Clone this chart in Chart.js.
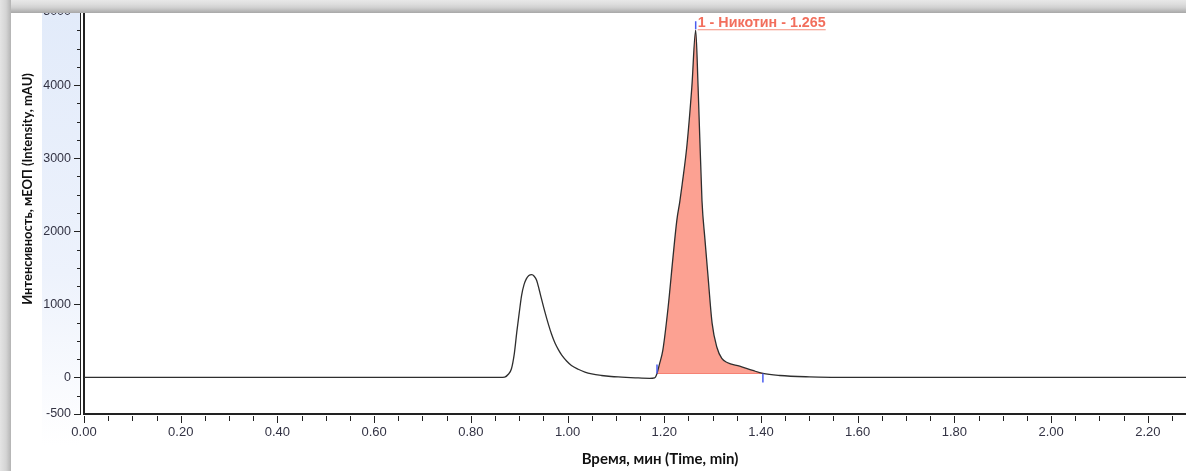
<!DOCTYPE html>
<html>
<head>
<meta charset="utf-8">
<script src="https://cdn.jsdelivr.net/npm/chart.js@4/dist/chart.umd.min.js"></script>
<style>
  html, body { margin: 0; padding: 0; background: #fff; }
  #wrap { position: relative; width: 1186px; height: 471px; overflow: hidden; }
  #chart { position: absolute; left: 0; top: 0; }
  .frame { position: absolute; pointer-events: none; }
  #frameTop { left: 0; top: 0; width: 1186px; height: 13px;
    background: linear-gradient(to bottom, #e8e8e8 0%, #dcdcdc 35%, #cfcfcf 60%, #a8a8a8 100%); }
  #frameLeft { left: 0; top: 0; width: 11px; height: 471px;
    background: linear-gradient(to right, #e4e4e4 0%, #d4d4d4 55%, #b4b4b4 100%); }
</style>
</head>
<body>
<div id="wrap">
  <canvas id="chart" width="1186" height="471"></canvas>
  <div class="frame" id="frameTop"></div>
  <div class="frame" id="frameLeft"></div>
</div>
<script>
const times = [0, 0.5, 0.84, 0.86, 0.87, 0.877, 0.884, 0.89, 0.895, 0.90, 0.905, 0.91, 0.915, 0.92,
    0.926, 0.931, 0.936, 0.941, 0.946, 0.953, 0.960, 0.967, 0.974, 0.981, 0.988, 0.998, 1.008,
    1.022, 1.036, 1.05, 1.07, 1.09, 1.112, 1.14, 1.17, 1.18, 1.185, 1.19, 1.197, 1.208, 1.218,
    1.226, 1.232, 1.237, 1.247, 1.257, 1.265, 1.270, 1.278, 1.284, 1.290, 1.299, 1.309, 1.319,
    1.330, 1.356, 1.383, 1.404, 1.439, 1.50, 1.55, 1.60, 2.0, 2.28];
const intensity = [0, 0, 0, 0, 5, 40, 119, 330, 620, 880, 1123, 1270, 1352, 1395,
    1407, 1385, 1329, 1210, 1078, 900, 736, 590, 470, 380, 305, 225, 164,
    112, 73, 48, 27, 13, 5, -5, -12, -5, 55, 180, 370, 960, 1640,
    2150, 2400, 2640, 3180, 3970, 4750, 3970, 2420, 1900, 1425, 740, 410, 260,
    205, 155, 96, 55, 27, 8, 2, 0, 0, 0];

const xTicks = [0, 0.2, 0.4, 0.6, 0.8, 1.0, 1.2, 1.4, 1.6, 1.8, 2.0, 2.2];
const yTicks = [-500, 0, 1000, 2000, 3000, 4000, 5000];
const xMinorStep = 0.05;
const yMinorStep = 250;

const peakStart = 1.185;
const peakEnd = 1.404;
const peakTime = 1.265;
const peakLabel = "1 - Никотин - 1.265";

const xTitle = "Время, мин (Time, min)";
const yTitle = "Интенсивность, мЕОП (Intensity, mAU)";

const trace = times.map((t, i) => ({ x: t, y: intensity[i] }));
const peakPts = trace.filter((p) => p.x >= peakStart && p.x <= peakEnd);
const baseY0 = peakPts[0].y;
const baseY1 = peakPts[peakPts.length - 1].y;
const basePts = [{ x: peakStart, y: baseY0 }, { x: peakEnd, y: baseY1 }];

const tickFont = { family: "'Liberation Sans', Arial, sans-serif", size: 12.5 };
const tickColor = "#333344";

function noPad(s) {
    s.paddingTop = 0;
    s.paddingBottom = 0;
    s.paddingLeft = 0;
    s.paddingRight = 0;
}

// фон оси Y, доп. засечки, заголовки осей, метки пика
const decor = {
    id: "decor",
    beforeDraw(chart) {
        const ctx = chart.ctx;
        const g = ctx.createLinearGradient(0, 13, 0, 445);
        g.addColorStop(0, "#e2ebfa");
        g.addColorStop(0.6, "#edf2fc");
        g.addColorStop(1, "#ffffff");
        ctx.save();
        ctx.fillStyle = g;
        ctx.fillRect(42, 13, chart.chartArea.left - 4 - 42, 432);
        ctx.restore();
    },
    afterDraw(chart) {
        const ctx = chart.ctx;
        const xs = chart.scales.x, ys = chart.scales.y;
        const area = chart.chartArea;
        ctx.save();
        ctx.strokeStyle = "#222";
        ctx.lineWidth = 1;
        // вторая линия оси Y с засечками
        const axX = area.left - 4;
        ctx.beginPath();
        ctx.moveTo(axX + 0.5, area.top);
        ctx.lineTo(axX + 0.5, area.bottom + 1);
        ctx.stroke();
        ctx.beginPath();
        for (let v = ys.min; v <= ys.max + 1e-6; v += yMinorStep) {
            const py = Math.round(ys.getPixelForValue(v)) + 0.5;
            const major = yTicks.includes(v);
            ctx.moveTo(axX - (major ? 6 : 3), py);
            ctx.lineTo(axX, py);
        }
        ctx.stroke();
        // засечки оси X
        ctx.beginPath();
        for (let i = 0; i * xMinorStep <= xs.max; i++) {
            const v = +(i * xMinorStep).toFixed(2);
            const px = Math.round(xs.getPixelForValue(v)) + 0.5;
            const major = i % 4 === 0;
            ctx.moveTo(px, area.bottom + 2);
            ctx.lineTo(px, area.bottom + (major ? 9 : 7));
        }
        ctx.stroke();

        // заголовки осей
        ctx.fillStyle = "#111";
        ctx.textAlign = "center";
        ctx.textBaseline = "middle";
        ctx.font = "bold 15px Lato, 'Liberation Sans', sans-serif";
        ctx.fillText(xTitle, 660, 459);
        ctx.font = "bold 13px Lato, 'Liberation Sans', sans-serif";
        ctx.translate(28, 189);
        ctx.rotate(-Math.PI / 2);
        ctx.fillText(yTitle, 0, 0);
        ctx.restore();
    },
    afterDatasetsDraw(chart) {
        const ctx = chart.ctx;
        const xs = chart.scales.x, ys = chart.scales.y;
        const apexVal = intensity[times.indexOf(peakTime)];
        const ax = xs.getPixelForValue(peakTime);
        const ay = ys.getPixelForValue(apexVal);
        const sx = xs.getPixelForValue(peakStart), sy = ys.getPixelForValue(baseY0);
        const ex = xs.getPixelForValue(peakEnd), ey = ys.getPixelForValue(baseY1);
        ctx.save();
        ctx.strokeStyle = "#4a5cf0";
        ctx.lineWidth = 1.5;
        ctx.beginPath();
        ctx.moveTo(ax, ay - 1); ctx.lineTo(ax, ay - 9);
        ctx.moveTo(sx, sy); ctx.lineTo(sx, sy - 9);
        ctx.moveTo(ex, ey); ctx.lineTo(ex, ey + 9);
        ctx.stroke();

        ctx.font = "bold 14.3px 'Liberation Sans', Arial, sans-serif";
        ctx.fillStyle = "#f26e5c";
        ctx.textAlign = "left";
        ctx.textBaseline = "alphabetic";
        const tx = ax + 2, tyBase = ay - 3;
        ctx.fillText(peakLabel, tx, tyBase);
        const w = ctx.measureText(peakLabel).width;
        ctx.strokeStyle = "#f58e7c";
        ctx.lineWidth = 1.2;
        ctx.beginPath();
        ctx.moveTo(tx, tyBase + 2.5);
        ctx.lineTo(tx + w, tyBase + 2.5);
        ctx.stroke();
        ctx.restore();
    }
};

new Chart(document.getElementById("chart"), {
    type: "line",
    data: {
        datasets: [
            {
                data: trace,
                borderColor: "#2e2e2e",
                borderWidth: 1.3,
                pointRadius: 0,
                cubicInterpolationMode: "monotone",
                fill: false,
            },
            {
                data: peakPts,
                borderWidth: 0,
                borderColor: "rgba(0,0,0,0)",
                backgroundColor: "#fca192",
                pointRadius: 0,
                cubicInterpolationMode: "monotone",
                fill: "+1",
            },
            {
                data: basePts,
                borderColor: "#f0574a",
                borderWidth: 1,
                pointRadius: 0,
                fill: false,
            },
        ],
    },
    options: {
        responsive: false,
        animation: false,
        events: [],
        layout: { padding: { top: 12, left: 0, right: 0, bottom: 0 } },
        plugins: {
            legend: { display: false },
            tooltip: { enabled: false },
        },
        scales: {
            x: {
                type: "linear",
                min: 0,
                max: 2.279,
                afterBuildTicks: (s) => { s.ticks = xTicks.map((v) => ({ value: v })); },
                afterFit: (s) => { s.height = 57; noPad(s); },
                ticks: {
                    callback: (v) => Number(v).toFixed(2),
                    font: { family: tickFont.family, size: 13 },
                    color: tickColor,
                    padding: 11,
                    maxRotation: 0,
                    autoSkip: false,
                },
                grid: { display: false, drawTicks: false },
                border: { display: true, color: "#222", width: 2 },
            },
            y: {
                min: -500,
                max: 5000,
                afterBuildTicks: (s) => { s.ticks = yTicks.map((v) => ({ value: v })); },
                afterFit: (s) => { s.width = 84; noPad(s); },
                ticks: {
                    callback: (v) => String(v),
                    font: tickFont,
                    color: tickColor,
                    padding: 13,
                },
                grid: { display: false, drawTicks: false },
                border: { display: true, color: "#222", width: 2 },
            },
        },
    },
    plugins: [decor],
});
</script>
</body>
</html>
